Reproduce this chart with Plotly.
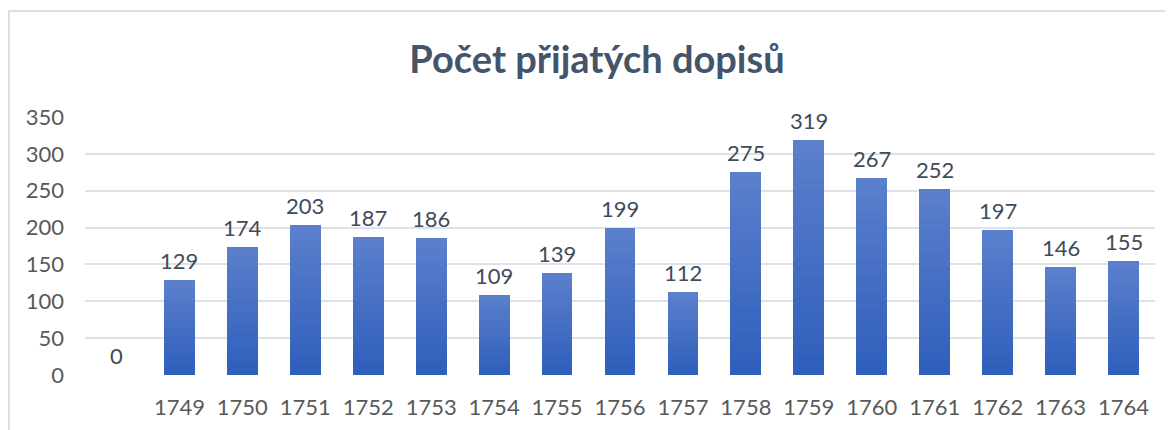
import plotly.graph_objects as go

categories = ["", "1749", "1750", "1751", "1752", "1753", "1754", "1755", "1756",
              "1757", "1758", "1759", "1760", "1761", "1762", "1763", "1764"]
values = [0, 129, 174, 203, 187, 186, 109, 139, 199, 112, 275, 319, 267, 252, 197, 146, 155]
y_ticks = [0, 50, 100, 150, 200, 250, 300, 350]
title_text = "Počet přijatých dopisů"

x_pos = list(range(len(categories)))
FONT = "Lato, Open Sans, sans-serif"

# gradient colours (bottom -> top)
c_bottom = (46, 94, 187)
c_top = (92, 128, 204)
N = 24

fig = go.Figure()
for i in range(N):
    t = (i + 0.5) / N
    col = tuple(round(c_bottom[k] + (c_top[k] - c_bottom[k]) * t) for k in range(3))
    fig.add_trace(go.Bar(
        x=x_pos, y=[v / N for v in values], width=0.49,
        marker=dict(color="rgb(%d,%d,%d)" % col, line=dict(width=0)),
        showlegend=False, hoverinfo="skip",
    ))

annotations = [dict(x=xp, y=v, xref="x", yref="y", text=str(v), showarrow=False,
                    yanchor="bottom", xanchor="center", yshift=4,
                    font=dict(family=FONT, size=22, color="#404b5a"))
               for xp, v in zip(x_pos, values)]

# body margin of the page offsets the figure by 8px
L, R, T, B = 77, 26, 109, 63
W, H = 1173, 430
pw, ph = W - L - R, H - T - B

fig.update_layout(
    width=W, height=H,
    margin=dict(l=L, r=R, t=T, b=B),
    barmode="stack", bargap=0,
    paper_bgcolor="white", plot_bgcolor="white",
    title=dict(text="<b>%s</b>" % title_text, x=(597 - 8) / W, xanchor="center",
               y=1 - 52 / H, yanchor="middle",
               font=dict(family=FONT, size=38, color="#44546A")),
    xaxis=dict(tickmode="array", tickvals=x_pos, ticktext=categories,
               range=[-0.5, len(categories) - 0.5], showgrid=False, zeroline=False,
               showline=False, ticks="", ticklabelstandoff=17,
               tickfont=dict(family=FONT, size=22, color="#595959")),
    yaxis=dict(range=[0, 350], tickvals=y_ticks, showgrid=True, gridcolor="#DEE1E6",
               gridwidth=2, zeroline=False, showline=False, ticks="",
               ticklabelstandoff=20,
               tickfont=dict(family=FONT, size=22, color="#595959")),
    annotations=annotations,
    shapes=[dict(type="rect", xref="paper", yref="paper",
                 x0=(1 - L) / pw, x1=(W + 20 - L) / pw,
                 y0=-(H + 20 - (H - B)) / ph, y1=1 + (T - 3) / ph,
                 line=dict(color="#DDE1E6", width=2), fillcolor="rgba(0,0,0,0)",
                 layer="below")],
)

fig.write_html("out.html")
